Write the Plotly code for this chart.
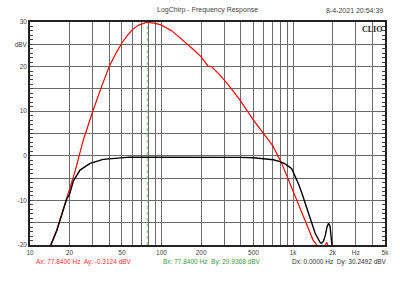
import plotly.graph_objects as go

# ---- data ----
freq_red = [13.5, 14.4, 16, 17.5, 19, 20, 22, 25.4, 28, 30, 35, 40, 45, 50, 55, 60, 67, 77.84, 90, 100,
            120, 150, 180, 200, 226, 240, 278, 320, 395, 500, 594, 700, 820, 920, 1067, 1230, 1420,
            1500, 1600, 1700, 1800, 1880, 2000]
red_db = [-23, -20, -16.7, -13, -9.7, -8, -3.5, 3.5, 7.5, 10, 15.5, 20, 23, 25.3, 27, 28.3, 29.3, 29.94,
          29.7, 29.3, 28, 25.6, 23.5, 22.2, 20.1, 20, 18.1, 16, 12.5, 8, 5, 2.3, -1.7, -5.4, -9.9, -14.4,
          -18.9, -19.8, -21, -20.6, -19.5, -20.5, -23]

freq_blk = [13.8, 14.4, 16, 17.5, 19, 20, 21.4, 24, 28.6, 36, 48, 57, 77.84, 100, 200, 300, 400, 500, 600,
            708, 796, 870, 977, 1035, 1100, 1164, 1309, 1470, 1610, 1650, 1700, 1760, 1810, 1860, 1910,
            1950, 1975, 2010]
blk_db = [-22, -20, -16.7, -13, -9.7, -8.6, -5.6, -3.2, -1.7, -0.8, -0.4, -0.3, -0.31, -0.3, -0.3, -0.3,
          -0.35, -0.45, -0.6, -0.9, -1.3, -1.8, -2.9, -4.5, -6.3, -8.3, -12.8, -17.3, -19.5, -19.6, -19.2,
          -17.8, -16.0, -15.1, -15.8, -18.0, -20, -24]

cursor_freq = 77.84
y_min, y_max = -20, 30
x_min, x_max = 10, 5000

x_grid = [10, 20, 30, 40, 50, 60, 70, 80, 90, 100, 200, 300, 400, 500, 600, 700, 800, 900,
          1000, 2000, 3000, 4000, 5000]
x_labels = ["10", "20", "", "", "50", "", "", "", "", "100", "200", "", "", "500", "", "", "", "",
            "1k", "2k", "Hz", "", "5k"]
y_grid = [-20, -15, -10, -5, 0, 5, 10, 15, 20, 25, 30]
y_labels = ["-20", "", "-10", "", "0", "", "10", "", "20", "dBV", "30"]

title_text = "LogChirp - Frequency Response"
date_text = "8-4-2021 20:54:39"
cursor_a = "Ax: 77.8400 Hz  Ay: -0.3124 dBV"
cursor_b = "Bx: 77.8400 Hz  By: 29.9368 dBV"
cursor_d = "Dx: 0.0000 Hz  Dy: 30.2492 dBV"

import math

fig = go.Figure()
fig.add_trace(go.Scatter(x=[cursor_freq, cursor_freq], y=[y_min, y_max], mode="lines",
                         line=dict(color="#7fc97f", width=1, dash="dot"), showlegend=False))
fig.add_trace(go.Scatter(x=freq_red, y=red_db, mode="lines",
                         line=dict(color="#ff0000", width=1.2), showlegend=False))
fig.add_trace(go.Scatter(x=freq_blk, y=blk_db, mode="lines",
                         line=dict(color="#000000", width=1.4), showlegend=False))

font = "Liberation Sans, Arial, sans-serif"
fig.update_layout(
    width=400, height=300,
    margin=dict(l=30, r=15, t=22, b=55),
    paper_bgcolor="white", plot_bgcolor="white",
    font=dict(family=font, size=6.5, color="#444"),
    xaxis=dict(type="log", range=[math.log10(x_min), math.log10(x_max)],
               tickvals=x_grid, ticktext=x_labels, showgrid=True, gridcolor="#6a6a6a", gridwidth=1,
               showline=True, linecolor="#222", linewidth=1.5, mirror=True, ticks="",
               zeroline=False, tickfont=dict(size=6.5, color="#444")),
    yaxis=dict(range=[y_min, y_max], tickvals=y_grid, ticktext=y_labels, showgrid=True,
               gridcolor="#6a6a6a", gridwidth=1, showline=True, linecolor="#222", linewidth=1.5,
               mirror="allticks", ticks="inside", ticklen=3, tickcolor="#444", zeroline=False,
               minor=dict(ticks="inside", dtick=1, ticklen=3, tickcolor="#444", showgrid=False),
               tickfont=dict(size=6.5, color="#444")),
)

fig.add_annotation(text=title_text, xref="paper", yref="paper", x=0.5, y=1.0, yshift=12,
                   showarrow=False, font=dict(size=7, color="#444"), xanchor="center", yanchor="middle")
fig.add_annotation(text=date_text, xref="paper", yref="paper", x=1.0, y=1.0, yshift=12,
                   showarrow=False, font=dict(size=7, color="#444"), xanchor="right", yanchor="middle")
fig.add_annotation(text="<b>CLIO</b>", xref="paper", yref="paper", x=1.0, y=1.0, xshift=-1, yshift=-1,
                   showarrow=False, font=dict(family="Liberation Serif, DejaVu Serif, serif", size=8,
                                              color="#222"),
                   xanchor="right", yanchor="top")
for txt, px, col in [(cursor_a, 34, "#ff3030"), (cursor_b, 161, "#3a9a3a"), (cursor_d, 290, "#333")]:
    fig.add_annotation(text=txt, xref="paper", yref="paper", x=(px - 30) / 355, y=0, yshift=-17,
                       showarrow=False, font=dict(size=6.5, color=col), xanchor="left", yanchor="middle")

fig.write_html("out.html")
